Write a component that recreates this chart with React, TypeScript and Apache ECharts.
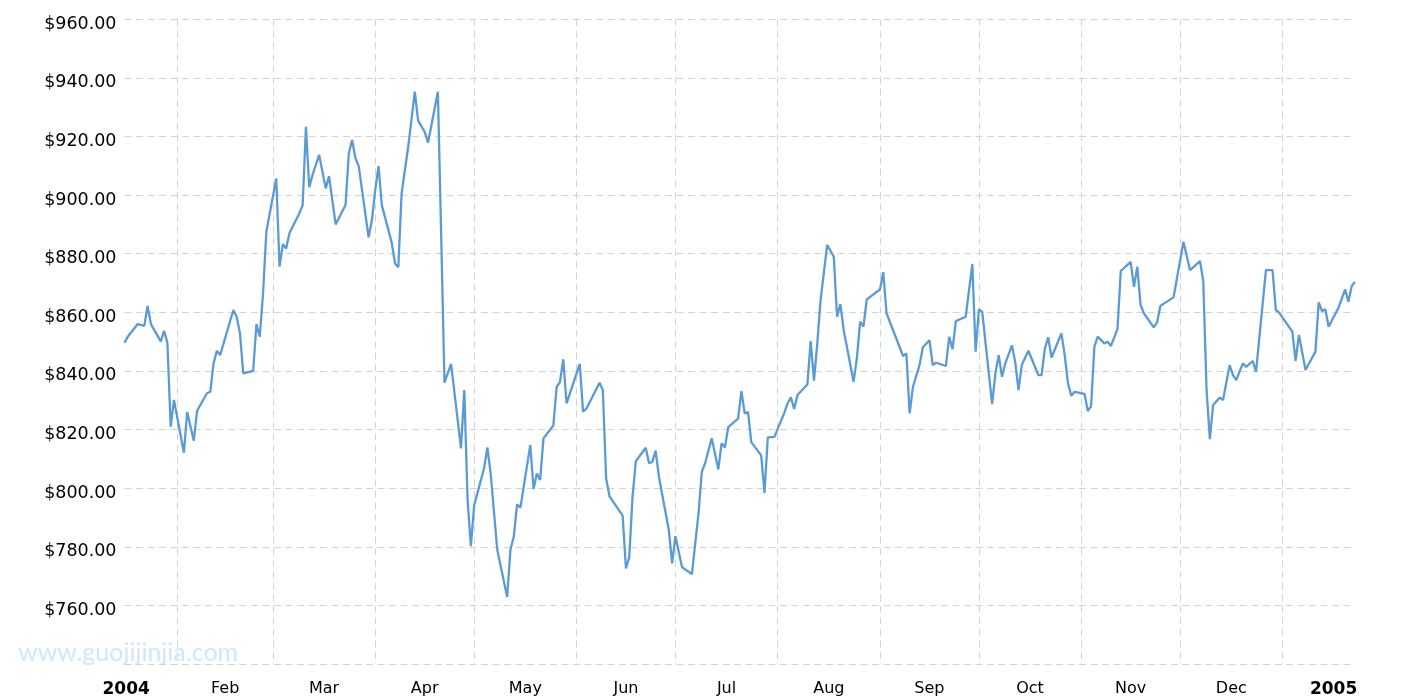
import React, { useEffect, useRef } from 'react';
import * as echarts from 'echarts';

const dates = [
  '2004-01-16','2004-01-17','2004-01-20','2004-01-22','2004-01-23','2004-01-24','2004-01-27','2004-01-28','2004-01-29','2004-01-30',
  '2004-01-31','2004-02-03','2004-02-04','2004-02-06','2004-02-07','2004-02-10','2004-02-11','2004-02-12','2004-02-13','2004-02-14',
  '2004-02-18','2004-02-19','2004-02-20','2004-02-21','2004-02-24','2004-02-25','2004-02-26','2004-02-27','2004-02-28','2004-03-02',
  '2004-03-03','2004-03-04','2004-03-05','2004-03-06','2004-03-09','2004-03-10','2004-03-11','2004-03-12','2004-03-13','2004-03-15',
  '2004-03-17','2004-03-18','2004-03-20','2004-03-23','2004-03-24','2004-03-25','2004-03-26','2004-03-27','2004-03-30','2004-03-31',
  '2004-04-01','2004-04-02','2004-04-03','2004-04-06','2004-04-07','2004-04-08','2004-04-09','2004-04-11','2004-04-13','2004-04-14',
  '2004-04-16','2004-04-17','2004-04-20','2004-04-21','2004-04-22','2004-04-24','2004-04-27','2004-04-28','2004-04-29','2004-04-30',
  '2004-05-01','2004-05-04','2004-05-05','2004-05-06','2004-05-08','2004-05-11','2004-05-12','2004-05-13','2004-05-14','2004-05-15',
  '2004-05-18','2004-05-19','2004-05-20','2004-05-21','2004-05-22','2004-05-25','2004-05-26','2004-05-27','2004-05-28','2004-05-29',
  '2004-06-02','2004-06-03','2004-06-04','2004-06-08','2004-06-09','2004-06-10','2004-06-11','2004-06-15','2004-06-16','2004-06-17',
  '2004-06-18','2004-06-19','2004-06-22','2004-06-23','2004-06-24','2004-06-25','2004-06-26','2004-06-29','2004-06-30','2004-07-01',
  '2004-07-03','2004-07-06','2004-07-08','2004-07-09','2004-07-10','2004-07-12','2004-07-14','2004-07-15','2004-07-16','2004-07-17',
  '2004-07-20','2004-07-21','2004-07-22','2004-07-23','2004-07-24','2004-07-27','2004-07-28','2004-07-29','2004-07-31','2004-08-03',
  '2004-08-04','2004-08-05','2004-08-06','2004-08-07','2004-08-10','2004-08-11','2004-08-12','2004-08-13','2004-08-14','2004-08-16',
  '2004-08-18','2004-08-19','2004-08-20','2004-08-21','2004-08-24','2004-08-25','2004-08-26','2004-08-27','2004-08-28','2004-09-01',
  '2004-09-02','2004-09-03','2004-09-08','2004-09-09','2004-09-10','2004-09-11','2004-09-13','2004-09-14','2004-09-16','2004-09-17',
  '2004-09-18','2004-09-21','2004-09-22','2004-09-23','2004-09-24','2004-09-27','2004-09-29','2004-09-30','2004-10-01','2004-10-02',
  '2004-10-05','2004-10-06','2004-10-07','2004-10-08','2004-10-09','2004-10-11','2004-10-12','2004-10-13','2004-10-14','2004-10-16',
  '2004-10-19','2004-10-20','2004-10-21','2004-10-22','2004-10-23','2004-10-26','2004-10-27','2004-10-28','2004-10-29','2004-10-30',
  '2004-11-02','2004-11-03','2004-11-04','2004-11-05','2004-11-06','2004-11-08','2004-11-09','2004-11-10','2004-11-12','2004-11-13',
  '2004-11-16','2004-11-17','2004-11-18','2004-11-19','2004-11-20','2004-11-23','2004-11-24','2004-11-25','2004-11-29','2004-12-02',
  '2004-12-04','2004-12-07','2004-12-08','2004-12-09','2004-12-10','2004-12-11','2004-12-13','2004-12-14','2004-12-16','2004-12-17',
  '2004-12-18','2004-12-20','2004-12-21','2004-12-23','2004-12-24','2004-12-27','2004-12-29','2004-12-30','2004-12-31','2005-01-04',
  '2005-01-05','2005-01-06','2005-01-08','2005-01-11','2005-01-12','2005-01-13','2005-01-14','2005-01-15','2005-01-18','2005-01-20',
  '2005-01-21','2005-01-22','2005-01-23'
];

const prices = [
  849.6,851.7,856.0,855.4,862.2,856.0,850.1,853.7,849.6,821.0,
  830.1,812.1,826.0,816.2,826.4,832.4,832.9,842.6,846.9,845.4,
  860.8,858.5,852.8,839.2,840.0,856.0,851.7,866.5,887.5,905.7,
  875.6,883.3,881.8,887.0,893.8,896.6,923.3,902.7,906.9,913.7,
  902.3,906.5,890.0,896.6,914.3,918.8,912.6,909.9,885.6,891.5,
  901.7,909.9,896.6,883.8,876.7,875.4,900.6,916.5,935.3,925.4,
  921.6,917.9,935.3,886.0,836.0,842.4,813.6,833.5,795.9,780.2,
  794.2,806.8,813.9,805.0,778.9,762.9,779.1,783.4,794.5,793.3,
  814.7,799.7,805.0,802.8,817.0,821.4,834.6,836.2,844.0,828.9,
  842.4,826.1,827.1,836.0,833.5,803.3,797.3,790.6,772.6,776.4,
  797.1,809.2,813.8,808.5,809.0,812.8,803.9,785.7,774.3,783.6,
  773.0,770.7,791.4,805.6,808.5,817.0,806.4,815.3,813.9,820.8,
  823.7,833.1,825.5,826.0,815.7,811.2,798.4,817.3,817.5,825.7,
  828.9,831.0,827.0,831.8,835.4,850.2,836.7,849.4,864.2,883.0,
  879.0,858.5,862.8,854.0,836.3,844.3,856.8,855.1,864.4,867.8,
  873.7,859.7,845.1,846.0,825.5,834.6,842.0,848.1,850.5,842.0,
  842.8,841.7,851.7,847.4,857.0,858.5,876.5,846.6,861.0,860.2,
  828.7,839.2,845.4,838.0,842.6,848.7,843.1,833.5,842.0,846.9,
  838.6,838.6,847.7,851.5,844.6,852.8,845.4,835.8,831.5,832.9,
  832.2,826.3,828.0,848.3,851.7,849.4,850.0,848.5,854.3,874.1,
  877.2,868.7,875.6,862.5,859.7,854.9,856.6,862.2,865.1,884.1,
  874.4,877.5,870.8,833.7,816.7,828.4,830.9,830.1,842.0,838.6,
  836.9,842.6,841.4,843.4,839.7,874.4,874.4,860.8,859.9,853.4,
  843.4,852.3,840.3,846.6,863.4,860.4,861.1,855.1,861.6,867.8,
  863.6,869.0,870.4
];

const monthNames = ['Jan', 'Feb', 'Mar', 'Apr', 'May', 'Jun', 'Jul', 'Aug', 'Sep', 'Oct', 'Nov', 'Dec'];
const yMin = 740;
const yMax = 960;
const yStep = 20;

const parse = (s: string) => {
  const [y, m, d] = s.split('-').map(Number);
  return new Date(y, m - 1, d).getTime();
};

export default function App() {
  const ref = useRef<HTMLDivElement>(null);
  useEffect(() => {
    const chart = echarts.init(ref.current as HTMLDivElement, null, { renderer: 'svg' });
    const monthStarts: number[] = [];
    for (let m = 1; m <= 12; m++) monthStarts.push(new Date(2004, m, 1).getTime());
    const monthMids: number[] = [];
    for (let m = 0; m <= 12; m++) {
      const a = new Date(2004, m, 1).getTime();
      const b = new Date(2004, m + 1, 1).getTime();
      monthMids.push((a + b) / 2);
    }
    const font = '"DejaVu Sans", Verdana, sans-serif';
    const gridLine = { show: true, lineStyle: { color: '#d3d3d3', type: [7, 4.5], width: 1 } };
    chart.setOption({
      animation: false,
      grid: { left: 124.5, right: 60, top: 19.3, bottom: 36, containLabel: false },
      xAxis: {
        type: 'value',
        min: parse(dates[0]),
        max: parse(dates[dates.length - 1]),
        axisLine: { show: false },
        axisTick: { show: false, customValues: monthStarts },
        splitLine: gridLine,
        axisLabel: {
          customValues: monthMids,
          hideOverlap: false,
          showMinLabel: true,
          showMaxLabel: true,
          margin: 15,
          fontSize: 16,
          fontFamily: font,
          color: '#000',
          formatter: (v: number) => {
            const d = new Date(v);
            return d.getMonth() === 0 ? '{y|' + d.getFullYear() + '}' : monthNames[d.getMonth()];
          },
          rich: { y: { fontSize: 17, fontWeight: 'bold', fontFamily: font, color: '#000' } },
        },
      },
      yAxis: {
        type: 'value',
        min: yMin,
        max: yMax,
        interval: yStep,
        axisLine: { show: false },
        axisTick: { show: false },
        splitLine: gridLine,
        axisLabel: {
          margin: 8,
          fontSize: 17.5,
          fontFamily: font,
          color: '#000',
          verticalAlign: 'top',
          lineHeight: 7,
          formatter: (v: number) => (v === yMin ? '' : '$' + v.toFixed(2)),
        },
      },
      graphic: [
        {
          type: 'text',
          left: 18,
          top: 638,
          silent: true,
          style: { text: 'www.guojijinjia.com', fill: '#cce8fb', font: 'normal 25px Lato, "Open Sans", sans-serif' },
        },
      ],
      series: [
        {
          type: 'line',
          data: dates.map((d, i) => [parse(d), prices[i]]),
          showSymbol: false,
          lineStyle: { color: '#5b9bd5', width: 2.3 },
          itemStyle: { color: '#5b9bd5' },
        },
      ],
    });
    return () => chart.dispose();
  }, []);
  return <div ref={ref} style={{ position: 'fixed', left: 0, top: 0, width: 1415, height: 700 }} />;
}
